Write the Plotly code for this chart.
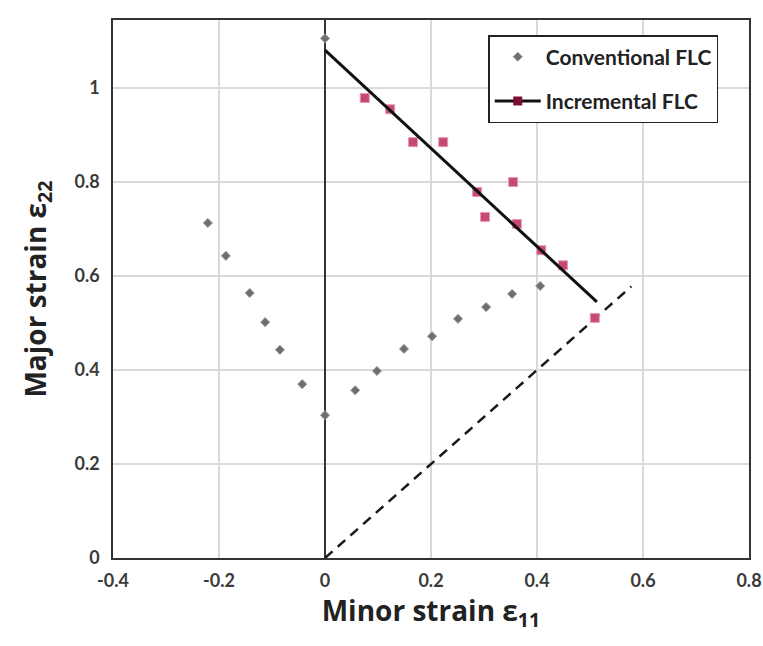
import plotly.graph_objects as go

# Conventional FLC (minor, major)
conv_x = [-0.221, -0.187, -0.142, -0.113, -0.085, -0.043, 0.0, 0.057, 0.098, 0.149, 0.202, 0.251, 0.304, 0.353, 0.406, 0.0]
conv_y = [0.713, 0.643, 0.564, 0.502, 0.443, 0.370, 0.304, 0.357, 0.398, 0.445, 0.472, 0.509, 0.534, 0.562, 0.579, 1.106]

# Incremental FLC points
inc_x = [0.075, 0.123, 0.166, 0.223, 0.287, 0.302, 0.355, 0.362, 0.408, 0.449, 0.509]
inc_y = [0.979, 0.955, 0.885, 0.885, 0.779, 0.726, 0.800, 0.711, 0.655, 0.623, 0.511]

# Incremental FLC fitted line
fit_x = [0.0, 0.513]
fit_y = [1.081, 0.545]

# Equal biaxial (dashed) line
eq_x = [0.0, 0.578]
eq_y = [0.0, 0.578]

xticks = [-0.4, -0.2, 0, 0.2, 0.4, 0.6, 0.8]
xtick_text = ["-0.4", "-0.2", "0", "0.2", "0.4", "0.6", "0.8"]
yticks = [0, 0.2, 0.4, 0.6, 0.8, 1.0]
ytick_text = ["0", "0.2", "0.4", "0.6", "0.8", "1"]

FONT = "Lato"
TITLE_FONT = "Open Sans"
conv_color = "#6e6e6e"
inc_color = "#c8496f"

fig = go.Figure()

fig.add_trace(go.Scatter(
    x=eq_x, y=eq_y, mode="lines",
    line=dict(color="#1a1a1a", width=2.5, dash="10px,7px"),
    showlegend=False, hoverinfo="skip"))

fig.add_trace(go.Scatter(
    x=conv_x, y=conv_y, mode="markers", name="Conventional FLC",
    marker=dict(symbol="diamond", size=7, color=conv_color,
                line=dict(color="#9a9a9a", width=1)),
    legendgroup="a"))

fig.add_trace(go.Scatter(
    x=inc_x, y=inc_y, mode="markers", name="Incremental FLC",
    marker=dict(symbol="square", size=9, color=inc_color,
                line=dict(color="#e89ab0", width=1)),
    showlegend=False, legendgroup="b"))

fig.add_trace(go.Scatter(
    x=fit_x, y=fit_y, mode="lines", name="Incremental FLC",
    line=dict(color="#111111", width=3),
    showlegend=False, legendgroup="b"))

# legend-only entry showing line + square
fig.add_trace(go.Scatter(
    x=[None], y=[None], mode="lines+markers", name="Incremental FLC",
    line=dict(color="#111111", width=3),
    marker=dict(symbol="square", size=9, color="#7a1030"),
    legendgroup="b"))

axis_common = dict(
    showgrid=True, gridcolor="#d9d9d9", gridwidth=1.5,
    showline=True, linecolor="#333333", linewidth=1.5, mirror=True,
    automargin=False,
    ticks="", tickfont=dict(family=FONT, size=18, color="#3a3a3a", weight="bold"),
)

fig.update_xaxes(
    range=[-0.4, 0.8], tickvals=xticks, ticktext=xtick_text,
    zeroline=True, zerolinecolor="#333333", zerolinewidth=2,
    ticklabelstandoff=6,
    title=dict(text="Minor strain ε<sub>11</sub>",
               font=dict(family=TITLE_FONT, size=28, color="#222222", weight="bold"),
               standoff=0),
    **axis_common)

fig.update_yaxes(
    range=[0, 1.145], tickvals=yticks, ticktext=ytick_text,
    zeroline=False, ticklabelstandoff=8,
    title=dict(text="Major strain ε<sub>22</sub>",
               font=dict(family=TITLE_FONT, size=28, color="#222222", weight="bold"),
               standoff=20),
    **axis_common)

fig.update_layout(
    width=763, height=646,
    margin=dict(l=113, r=14, t=20, b=88),
    paper_bgcolor="white", plot_bgcolor="white",
    legend=dict(
        x=0.59, y=0.972, xanchor="left", yanchor="top",
        bgcolor="white", bordercolor="#222222", borderwidth=1.5,
        font=dict(family=FONT, size=21, color="#222222", weight="bold"),
        traceorder="grouped", tracegroupgap=14,
        itemwidth=46,
    ),
)

fig.write_html("out.html")
